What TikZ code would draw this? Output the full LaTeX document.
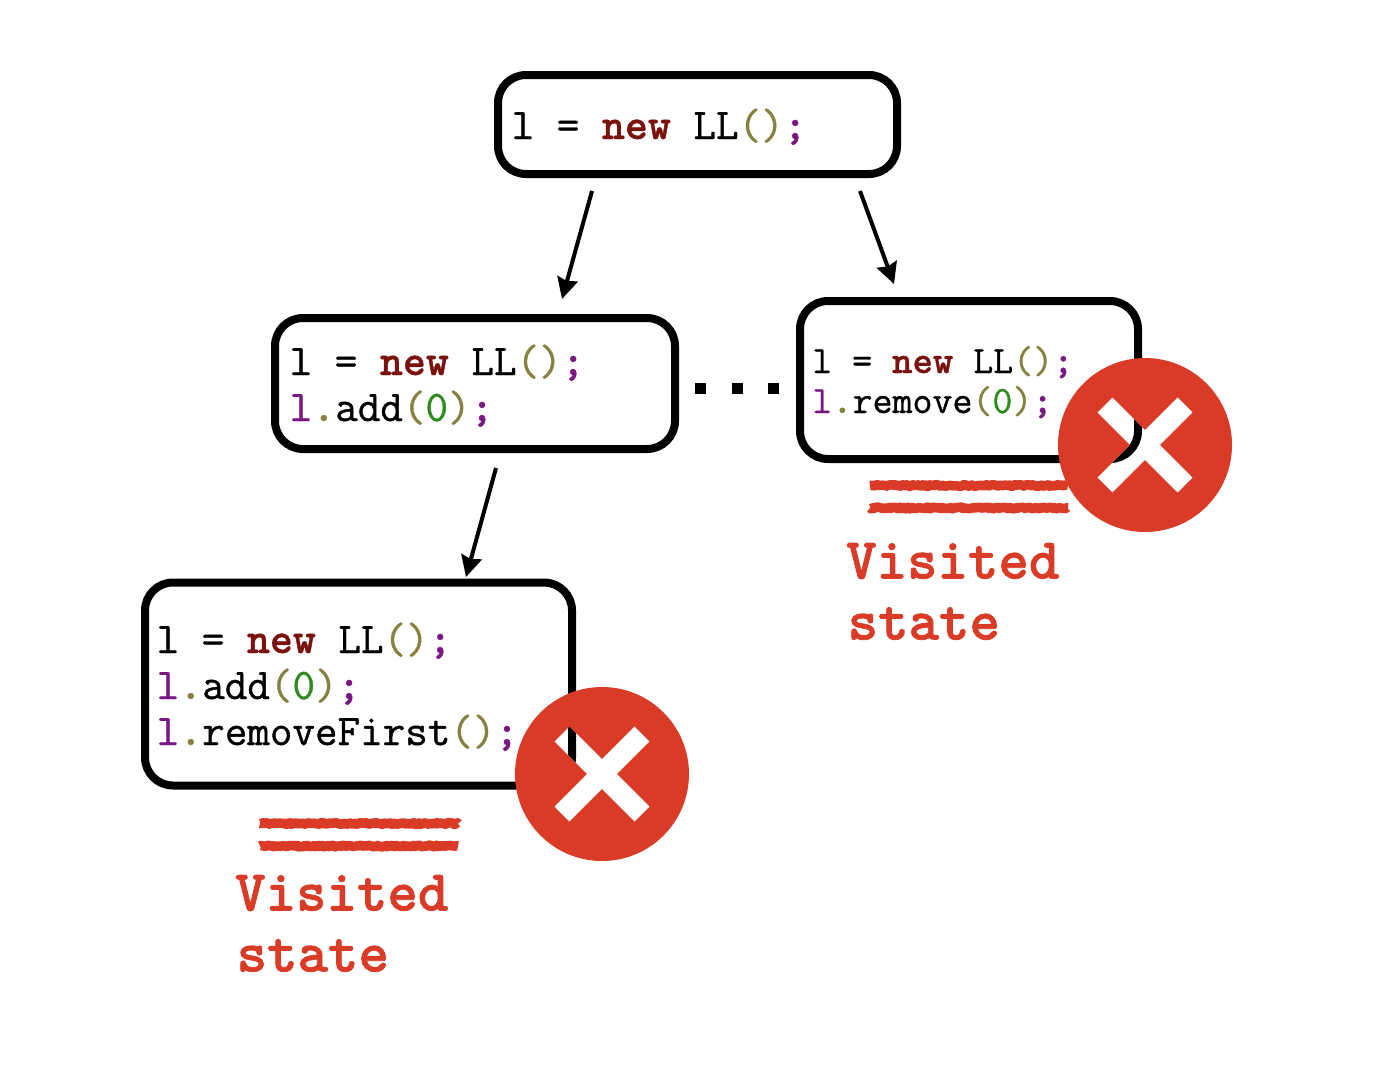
\documentclass[tikz,border=0pt]{standalone}
\usepackage{fontspec}
\setmonofont{Latin Modern Mono}[FakeBold=0.9]
\newfontface\heavytt{lmmonolt10-bold.otf}[FakeBold=0.8]
\newfontface\heaviertt{lmmonolt10-bold.otf}[FakeBold=1.2]
\usetikzlibrary{arrows.meta,decorations.pathmorphing}
\definecolor{kwred}{HTML}{7A130E}
\definecolor{olive}{HTML}{85813F}
\definecolor{purp}{HTML}{7A1784}
\definecolor{grn}{HTML}{2F8A1F}
\definecolor{xred}{HTML}{DA3B26}
\newcommand{\kw}[1]{\textcolor{kwred}{\heavytt #1}}
\newcommand{\ol}[1]{\textcolor{olive}{#1}}
\newcommand{\pu}[1]{\textcolor{purp}{#1}}
\newcommand{\gr}[1]{\textcolor{grn}{#1}}
\newcommand{\semi}{\textcolor{purp}{\heavytt ;}}
\newcommand{\lineA}{l = \kw{new} LL\ol{()}\semi}
\newcommand{\lref}{\pu{l}\textcolor{olive}{\heavytt .}}
\tikzset{
 statebox/.style={draw=black,line width=8pt,rounded corners=28pt,fill=white,inner sep=0pt,outer sep=0pt,anchor=north west},
 code/.style={anchor=base west,inner sep=0pt,font=\fontsize{43.8}{46}\selectfont\ttfamily},
 codesmall/.style={anchor=base west,inner sep=0pt,font=\fontsize{38.8}{42}\selectfont\ttfamily},
 visited/.style={anchor=base west,inner sep=0pt,text=xred,font=\fontsize{58}{60}\selectfont\heaviertt},
 arrowline/.style={line width=4pt,-{Stealth[length=21pt,width=21pt,inset=2.5pt]}},
 rough/.style={draw=xred,line width=9.5pt,line join=round,decorate,decoration={random steps,segment length=1.6pt,amplitude=.9pt}},
 badge/.style={circle,fill=xred,minimum size=174pt,inner sep=0pt},
 crossarm/.style={draw=white,line width=21pt},
 dotsq/.style={fill=black,minimum size=11pt,inner sep=0pt}
}
\begin{document}
\begin{tikzpicture}[x=1pt,y=-1pt]
\useasboundingbox (0,0) rectangle (1388,1082);
\pgfmathsetseed{7}
% boxes
\node[statebox,minimum width=399pt,minimum height=99pt] (top) at (498,75) {};
\node[statebox,minimum width=400pt,minimum height=131pt] (mid) at (275,318) {};
\node[statebox,minimum width=338pt,minimum height=158pt] (rgt) at (800,301) {};
\node[statebox,minimum width=427pt,minimum height=203pt] (bot) at (145,582.5) {};
% code
\node[code] (t1) at (511.5,139) {\lineA};
\node[code] (m1) at (289.5,375) {\lineA};
\node[code] (m2) at (289.5,421) {\lref add\ol{(}\gr{0}\ol{)}\semi};
\node[codesmall] (r1) at (812,373) {\lineA};
\node[codesmall] (r2) at (812,413) {\lref remove\ol{(}\gr{0}\ol{)}\semi};
\node[code] (b1) at (156.5,653) {\lineA};
\node[code] (b2) at (156.5,699) {\lref add\ol{(}\gr{0}\ol{)}\semi};
\node[code] (b3) at (156.5,745) {\lref removeFirst\ol{()}\semi};
% arrows
\coordinate (a1s) at (592,191); \coordinate (a1e) at (562,299);
\coordinate (a2s) at (860,191); \coordinate (a2e) at (894,284);
\coordinate (a3s) at (496,468); \coordinate (a3e) at (466,577);
\draw[arrowline] (a1s) -- (a1e);
\draw[arrowline] (a2s) -- (a2e);
\draw[arrowline] (a3s) -- (a3e);
% dots
\node[dotsq] (d1) at (700.5,388.5) {};
\node[dotsq] (d2) at (737,388.5) {};
\node[dotsq] (d3) at (773.5,388.5) {};
% rough lines
\coordinate (u1a) at (870,485.5); \coordinate (u1b) at (1068,485.5);
\coordinate (u2a) at (870,508); \coordinate (u2b) at (1068,508);
\coordinate (u3a) at (260,823.5); \coordinate (u3b) at (458,823.5);
\coordinate (u4a) at (260,846); \coordinate (u4b) at (458,846);
\draw[rough] (u1a) -- (u1b);
\draw[rough] (u2a) -- (u2b);
\draw[rough] (u3a) -- (u3b);
\draw[rough] (u4a) -- (u4b);
% badges: the cross is a hole, so the box outline shows through it
\node[badge] (c1) at (1145,445) {};
\draw[crossarm] (1105,405) -- (1185,485);
\draw[crossarm] (1185,405) -- (1105,485);
\begin{scope}
\clip (1105-7.4,405+7.4) -- (1105+7.4,405-7.4) -- (1145,445-15) -- (1185-7.4,405-7.4) -- (1185+7.4,405+7.4) -- (1145+15,445) -- (1185+7.4,485-7.4) -- (1185-7.4,485+7.4) -- (1145,445+15) -- (1105+7.4,485+7.4) -- (1105-7.4,485-7.4) -- (1145-15,445) -- cycle;
\draw[line width=8pt,rounded corners=28pt] (rgt.north west) rectangle (rgt.south east);
\end{scope}
\node[badge] (c2) at (602,774) {};
\draw[crossarm] (562,734) -- (642,814);
\draw[crossarm] (642,734) -- (562,814);
\begin{scope}
\clip (562-7.4,734+7.4) -- (562+7.4,734-7.4) -- (602,774-15) -- (642-7.4,734-7.4) -- (642+7.4,734+7.4) -- (602+15,774) -- (642+7.4,814-7.4) -- (642-7.4,814+7.4) -- (602,774+15) -- (562+7.4,814+7.4) -- (562-7.4,814-7.4) -- (602-15,774) -- cycle;
\draw[line width=8pt,rounded corners=28pt] (bot.north west) rectangle (bot.south east);
\end{scope}
% labels
\node[visited] (v1) at (846,578.5) {Visited};
\node[visited] (v2) at (847.5,639.5) {state};
\node[visited] (v3) at (235,910.5) {Visited};
\node[visited] (v4) at (236.5,971.5) {state};
\end{tikzpicture}
\end{document}
